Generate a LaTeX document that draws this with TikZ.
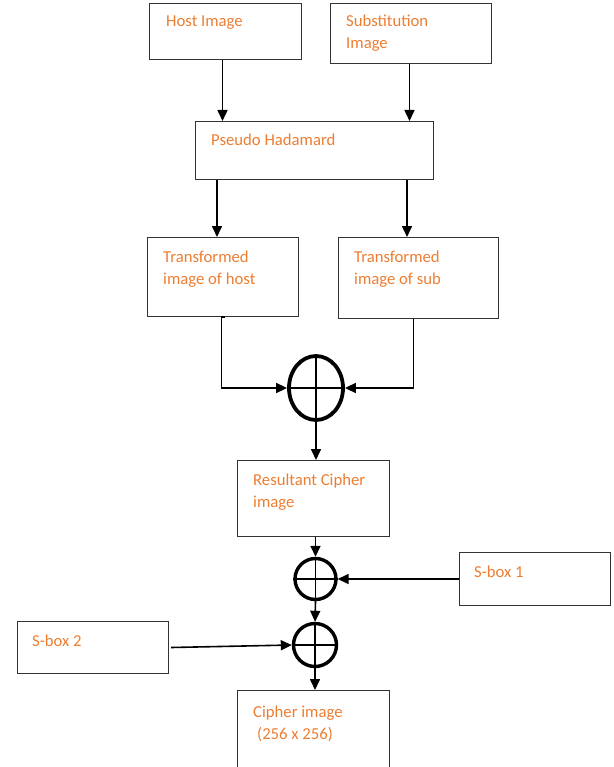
\documentclass[tikz,border=0pt]{standalone}
\usepackage{fontspec}
\setmainfont{Carlito}
\usetikzlibrary{arrows.meta,calc,shapes.geometric}
\definecolor{txt}{HTML}{ED7D31}
\begin{document}
\begin{tikzpicture}[x=1pt,y=-1pt,
  box/.style={draw=black!80, line width=1pt, inner sep=0pt, anchor=north west},
  lbl/.style={text=txt, anchor=base west, inner sep=0pt, font=\fontsize{16.7}{22}\selectfont},
  arr/.style={line width=1.6pt, -{Triangle[length=11pt,width=10pt]}},
  xorc/.style={draw, line width=3.4pt, circle, inner sep=0pt, minimum size=#1},
  xore/.style={draw, line width=3.8pt, ellipse, inner sep=0pt, minimum width=54pt, minimum height=64pt},
  pl/.style={line width=1.1pt}]
\useasboundingbox (0,0) rectangle (613,767);
% boxes
\node[box, minimum width=152pt, minimum height=56pt] (host) at (149,3) {};
\node[box, minimum width=161pt, minimum height=60pt] (sub) at (330,3) {};
\node[box, minimum width=238pt, minimum height=58pt] (pseudo) at (195,121) {};
\node[box, minimum width=151pt, minimum height=79pt] (th) at (147,237) {};
\node[box, minimum width=160pt, minimum height=81pt] (ts) at (338,237) {};
\node[box, minimum width=152pt, minimum height=76pt] (res) at (237,460) {};
\node[box, minimum width=151pt, minimum height=53pt] (sb1) at (459,552) {};
\node[box, minimum width=151pt, minimum height=52pt] (sb2) at (17,621) {};
\node[box, minimum width=152pt, minimum height=95pt] (cip) at (237,690) {};
% xor symbols
\node[xore] (x1) at (316,388) {};
\node[xorc=41pt] (x2) at (315.5,579) {};
\node[xorc=43pt] (x3) at (315,645) {};
% labels
\node[lbl] (t1) at (166,27) {Host Image};
\node[lbl] (t2a) at (346,27) {Substitution};
\node[lbl] (t2b) at (346,49) {Image};
\node[lbl] (t3) at (211,146) {Pseudo Hadamard};
\node[lbl] (t4a) at (163,262) {Transformed};
\node[lbl] (t4b) at (163,284) {image of host};
\node[lbl] (t5a) at (354,262) {Transformed};
\node[lbl] (t5b) at (354,284) {image of sub};
\node[lbl] (t6a) at (253,485) {Resultant Cipher};
\node[lbl] (t6b) at (253,507) {image};
\node[lbl] (t7) at (474,577) {S-box 1};
\node[lbl] (t8) at (32,646) {S-box 2};
\node[lbl] (t9a) at (253,717) {Cipher image};
\node[lbl] (t9b) at (257,739) {(256 x 256)};
% connectors
\coordinate (a1) at ($(host.south)+(-3,0)$);
\draw[arr] (a1) -- (a1 |- pseudo.north);
\coordinate (a2) at ($(sub.south)+(-1.5,0)$);
\draw[arr] (a2) -- (a2 |- pseudo.north);
\coordinate (a3) at (217,0 |- pseudo.south);
\draw[arr] (a3) -- (a3 |- th.north);
\coordinate (a4) at (407,0 |- pseudo.south);
\draw[arr] (a4) -- (a4 |- ts.north);
\coordinate (a5) at ($(th.south)+(-1.5,0)$);
\draw[arr] ($(a5)+(3,0)$) -- (a5) -- (a5 |- x1.west) -- (x1.west);
\coordinate (a6) at ($(ts.south)+(-5,0)$);
\draw[arr] (a6) -- (a6 |- x1.east) -- (x1.east);
\draw[pl] (x1.west) -- (x1.east);
\draw[pl] (x1.north) -- (x1.south);
\draw[arr] (x1.south) -- (x1.south |- res.north);
\draw[arr] (res.south -| x2.north) -- (x2.north);
\draw[pl] (x2.west) -- (x2.east);
\draw[pl] (x2.north) -- (x2.south);
\draw[arr] (sb1.west) -- (x2.east);
\draw[arr] (x2.south) -- (x3.north);
\draw[pl] (x3.west) -- (x3.east);
\draw[pl] (x3.north) -- (x3.south);
\draw[arr] ($(sb2.east)+(2,0)$) -- (x3.west);
\draw[arr] (x3.south) -- (x3.south |- cip.north);
\end{tikzpicture}
\end{document}
